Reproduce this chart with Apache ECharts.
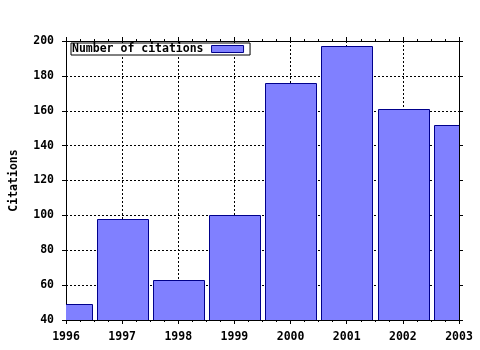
<!DOCTYPE html>
<html><head><meta charset="utf-8">
<script src="https://cdn.jsdelivr.net/npm/echarts@6/dist/echarts.min.js"></script>
<style>html,body{margin:0;padding:0;background:#fff}#c{width:480px;height:350px}</style>
</head><body><div id="c"></div>
<script>
const years = [1996, 1997, 1998, 1999, 2000, 2001, 2002, 2003];
const citations = [49, 98, 63, 100, 176, 197, 161, 152];
const seriesName = 'Number of citations';
const yLabel = 'Citations';

const font = 'DejaVu Sans Mono';
const txt = {fontFamily: font, fontWeight: 'bold', fontSize: 11.5, color: '#000'};
const barFill = '#8080ff', barEdge = '#00008b';
const tick = {show: true, inside: false, length: 4, lineStyle: {color: '#000'}};
const minor = {show: true, splitNumber: 4, length: 2, lineStyle: {color: '#000'}};
const chart = echarts.init(document.getElementById('c'), null, {renderer: 'canvas'});
const data = years.map((y, i) => [y, citations[i]]);
chart.setOption({
  animation: false,
  backgroundColor: '#fff',
  grid: {left: 64, right: 21, top: 41, bottom: 30},
  legend: {
    show: true, left: 71, top: 43, orient: 'horizontal', align: 'right',
    itemWidth: 32, itemHeight: 7, padding: [0, 6, 0, 1], itemGap: 0,
    borderColor: '#000', borderWidth: 1, backgroundColor: '#fff',
    textStyle: Object.assign({}, txt, {padding: [1, 3, 0, 0]}),
    data: [{name: seriesName, icon: 'rect', itemStyle: {color: barFill, borderColor: barEdge, borderWidth: 1}}]
  },
  xAxis: [{
    type: 'value', min: 1996, max: 2003, interval: 1,
    axisLine: {show: true, lineStyle: {color: '#000', width: 1}},
    axisTick: tick, minorTick: minor,
    axisLabel: Object.assign({}, txt, {margin: 11, formatter: v => String(v)}),
    splitLine: {show: true, lineStyle: {color: '#000', type: [2, 2], width: 1}}
  }, {
    type: 'value', min: 1996, max: 2003, interval: 1, position: 'top',
    axisLine: {show: true, lineStyle: {color: '#000'}},
    axisTick: tick, minorTick: minor,
    axisLabel: {show: false}, splitLine: {show: false}
  }],
  yAxis: [{
    type: 'value', min: 40, max: 200, interval: 20,
    name: yLabel, nameLocation: 'middle', nameGap: 46, nameRotate: 90,
    nameTextStyle: txt,
    axisLine: {show: true, lineStyle: {color: '#000'}},
    axisTick: tick,
    axisLabel: Object.assign({}, txt, {margin: 12}),
    splitLine: {show: true, lineStyle: {color: '#000', type: [2, 2], width: 1}}
  }, {
    type: 'value', min: 40, max: 200, interval: 20, position: 'right',
    axisLine: {show: true, lineStyle: {color: '#000'}},
    axisTick: tick,
    axisLabel: {show: false}, splitLine: {show: false}
  }],
  series: [{
    name: seriesName, type: 'custom', data: data, clip: true,
    itemStyle: {color: barFill, borderColor: barEdge, borderWidth: 1},
    encode: {x: 0, y: 1},
    renderItem: function (params, api) {
      const x = api.value(0), y = api.value(1);
      const top = api.coord([x, y]);
      const base = api.coord([x, 40]);
      const w = api.size([1, 0])[0] * 0.9;
      return {
        type: 'rect',
        shape: {x: Math.round(top[0] - w / 2) + 0.5, y: Math.round(top[1]) + 0.5, width: Math.round(w), height: Math.round(base[1] - top[1])},
        style: {fill: barFill, stroke: barEdge, lineWidth: 1}
      };
    }
  }]
});
</script></body></html>
